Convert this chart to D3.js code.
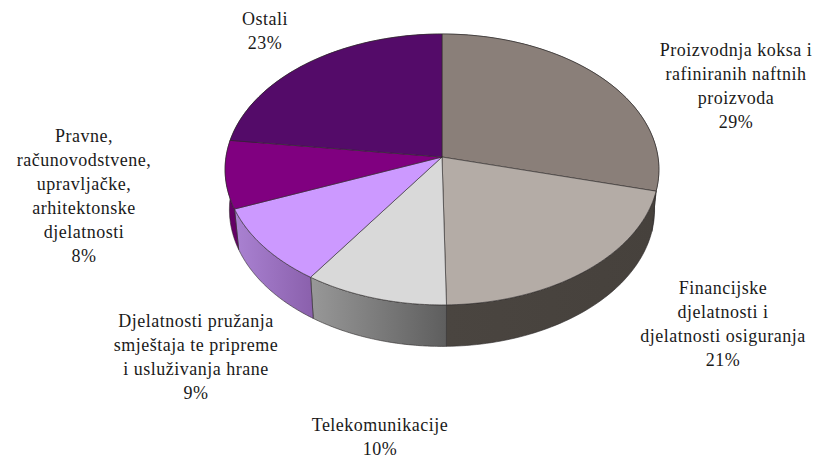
<!DOCTYPE html>
<html lang="hr">
<head>
<meta charset="UTF-8">
<title>Udjeli po djelatnostima</title>
<script src="https://d3js.org/d3.v7.min.js"></script>
<style>
    html, body { margin: 0; background: #fff; }
    svg { display: block; }
    .label { font-family: "Liberation Serif", serif; font-size: 18px; letter-spacing: 0.5px; fill: #1a1a1a; text-anchor: middle; }
</style>
</head>
<body>
<svg width="816" height="460"></svg>
<script>
var categories = [
    ["Proizvodnja koksa i", "rafiniranih naftnih", "proizvoda"],
    ["Financijske", "djelatnosti i", "djelatnosti osiguranja"],
    ["Telekomunikacije"],
    ["Djelatnosti pružanja", "smještaja te pripreme", "i usluživanja hrane"],
    ["Pravne,", "računovodstvene,", "upravljačke,", "arhitektonske", "djelatnosti"],
    ["Ostali"]
];
var values = [29, 20.7, 9.8, 9.4, 8.1, 23];
var topColors = ["#8a7f79", "#b4aca6", "#d9d9d9", "#cc99ff", "#800080", "#540b69"];
var wallColors = [["#46413c", "#46413c"], ["#4a4540", "#46413c"], ["#989898", "#5e5e5e"],
                  ["#aa82d2", "#8a60ac"], ["#640066", "#640066"], ["#640066", "#640066"]];
var labelPos = [[736, 56], [723, 294], [380, 431], [196, 327], [84, 142], [265, 25]];

var svg = d3.select("svg");
var lineH = 24;

// tilted disc: a perspective projection of a circle
var cx = 442, cy = 157, rx = 216, ry = 134.3, persp = 0.092, depth = 40;

function rim(a) {
    var u = Math.sin(a), v = -Math.cos(a), w = 1 - persp * v;
    return [cx + rx * u / w, cy + ry * v / w];
}
function lower(p) {
    return [cx + (p[0] - cx) * 0.98, cy + depth + (p[1] - cy) * 1.01];
}

var pie = d3.pie().sort(null).value(function(d) { return d; });
var slices = pie(values);
var line = d3.line();

function rimPoints(s) {
    return d3.range(0, 61).map(function(i) {
        return rim(s.startAngle + (s.endAngle - s.startAngle) * i / 60);
    });
}

var defs = svg.append("defs");
wallColors.forEach(function(c, i) {
    var g = defs.append("linearGradient").attr("id", "wall" + i);
    g.append("stop").attr("offset", "0%").attr("stop-color", c[0]);
    g.append("stop").attr("offset", "100%").attr("stop-color", c[1]);
});

svg.append("g").selectAll("path")
    .data(slices)
    .join("path")
    .attr("d", function(s) {
        var pts = rimPoints(s);
        return line(pts.concat(pts.slice().reverse().map(lower))) + "Z";
    })
    .attr("fill", function(s, i) { return "url(#wall" + i + ")"; })
    .attr("stroke", "#2e2a2a")
    .attr("stroke-width", 0.6);

svg.append("g").selectAll("path")
    .data(slices)
    .join("path")
    .attr("d", function(s) { return line([[cx, cy]].concat(rimPoints(s))) + "Z"; })
    .attr("fill", function(s, i) { return topColors[i]; })
    .attr("stroke", "#2e2a2a")
    .attr("stroke-width", 0.6)
    .attr("stroke-linejoin", "round");

var labels = svg.append("g").selectAll("text")
    .data(categories)
    .join("text")
    .attr("class", "label")
    .attr("x", function(d, i) { return labelPos[i][0]; })
    .attr("y", function(d, i) { return labelPos[i][1]; });

labels.selectAll("tspan")
    .data(function(d, i) { return d.concat([Math.round(values[i]) + "%"]); })
    .join("tspan")
    .attr("x", function() { return d3.select(this.parentNode).attr("x"); })
    .attr("dy", function(d, i) { return i ? lineH : 0; })
    .text(function(d) { return d; });
</script>
</body>
</html>
